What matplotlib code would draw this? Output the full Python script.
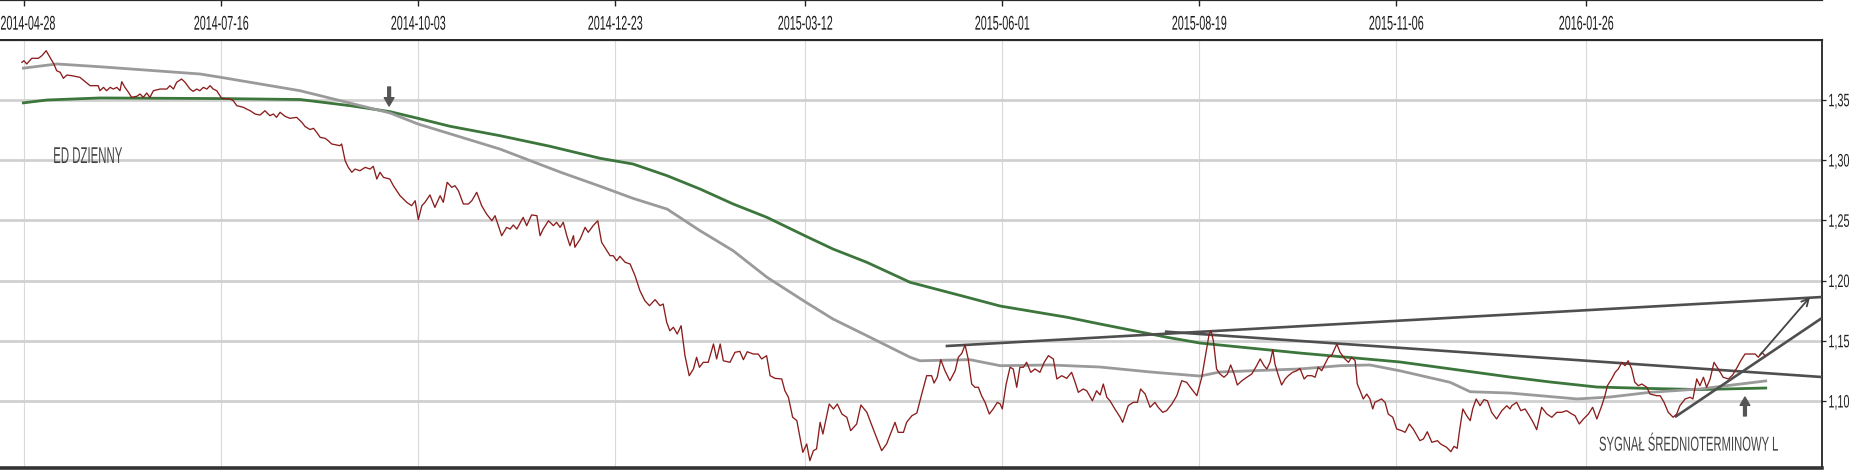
import matplotlib
matplotlib.use("Agg")
import matplotlib.pyplot as plt
from matplotlib import font_manager as fm
from matplotlib import patheffects
from matplotlib.transforms import Affine2D

# ---------------- data (x = trading-day index, 0 = 2014-04-28) ----------------
tick_bars = [0, 56, 112, 168, 222, 278, 334, 390, 444]
tick_labels = ["2014-04-28", "2014-07-16", "2014-10-03", "2014-12-23", "2015-03-12",
               "2015-06-01", "2015-08-19", "2015-11-06", "2016-01-26"]
ytick_vals = [1.10, 1.15, 1.20, 1.25, 1.30, 1.35]

price_bar = [
    -0.7, -0.1, 0.7, 2.1, 4.0, 5.0, 6.2, 7.3, 8.4, 9.2, 10.2, 11.1, 12.1, 13.5, 15.8, 17.3, 18.7, 21.0,
    21.5, 22.5, 23.4, 24.4, 25.3, 26.3, 27.2, 27.7, 28.6, 29.6, 30.5, 32.0, 32.9, 33.8, 34.8, 35.7, 36.7,
    38.6, 40.5, 41.4, 42.4, 43.3, 44.7, 45.7, 47.1, 48.0, 49.0, 49.9, 50.9, 51.9, 52.8, 53.7, 54.7, 56.1,
    58.5, 59.4, 60.4, 62.3, 63.2, 64.2, 65.6, 67.0, 68.4, 69.8, 70.8, 71.7, 72.7, 74.1, 75.5, 77.4, 78.9,
    79.8, 81.2,
    82.2, 83.1, 84.1, 85.5, 86.4, 87.4, 89.7, 90.2, 91.2, 92.1, 93.1, 94.0, 95.4, 96.9, 98.3, 99.2, 100.2,
    101.1, 102.1, 103.9, 104.9, 106.8, 108.7, 110.1, 111.1, 112.0, 113.0, 113.9, 115.3, 116.7, 118.2,
    119.1, 120.2, 121.5, 122.4, 123.4, 124.8, 126.2, 127.2, 128.6, 130.0, 131.4, 132.9, 133.8, 135.7,
    137.1, 138.1, 139.0, 140.0, 141.8, 142.8, 144.2, 145.7, 146.6, 147.5, 149.0, 150.4, 151.3, 152.3,
    153.2, 154.2, 155.1, 156.1, 156.5, 158.0, 159.4, 160.3, 161.7, 163.0, 164.1, 166.5,
    167.4, 168.4, 169.3, 170.8, 172.2, 173.6, 175.0, 176.4, 177.7, 179.3, 180.7, 181.6, 182.6, 183.5,
    184.5, 185.6, 186.7, 187.8, 189.0, 190.2, 191.1, 191.9, 193.0, 194.4, 195.9, 196.8, 197.8, 198.7,
    200.6, 202.0, 203.4, 204.4, 205.5, 207.2, 208.6, 209.6, 211.0, 212.0, 213.4, 215.3, 216.2, 217.2,
    218.4, 219.6, 220.3, 221.3, 222.4, 223.3, 224.3, 225.2, 226.2, 227.0, 228.8, 230.0, 231.1, 232.4,
    233.8, 234.9, 236.6, 237.8, 239.5, 241.3, 243.7, 245.1, 247.5, 248.4, 249.9, 250.8,
    252.3, 253.7, 255.1, 256.5, 257.9, 258.6, 259.5, 260.5, 261.7, 263.1, 264.6, 265.5, 266.5, 267.4,
    268.3, 269.3, 270.2, 271.2, 272.1, 273.1, 274.3, 275.4, 276.6, 277.4, 278.0, 279.1, 280.2, 281.1,
    282.1, 283.0, 284.0, 284.9, 286.1, 287.3, 288.7, 289.9, 291.1, 292.5, 293.5, 294.9, 296.3, 297.7,
    298.7, 299.6, 301.0, 302.0, 303.6, 304.8, 305.8, 306.7, 307.7, 308.6, 310.0, 311.5, 312.2, 313.8,
    315.2, 316.4, 317.3, 318.6, 320.0, 321.4, 322.3, 323.6, 324.7, 326.2, 327.6, 329.0, 330.4, 331.8,
    333.3, 334.7, 335.9, 336.8,
    337.3, 338.0, 338.9, 339.9, 341.0, 342.0, 342.9, 343.9, 344.8, 346.1, 347.5, 348.9, 350.3, 351.3,
    352.4, 353.2, 354.1, 354.9, 355.5, 356.5, 357.4, 358.4, 359.3, 360.5, 361.7, 362.6, 363.8, 364.7,
    366.0, 366.9, 367.8, 368.8, 369.7, 370.7, 371.6, 373.1, 374.0, 375.4, 376.4, 377.3, 378.3, 378.9,
    379.7, 380.6, 381.6, 382.5, 383.3, 383.9, 385.8, 386.8, 387.7, 389.0, 390.1, 391.5, 392.5, 393.7,
    394.8, 396.7, 397.7, 398.8, 400.1, 401.7, 402.6, 404.3, 405.5, 406.4, 407.3, 407.9, 408.9, 410.0,
    411.0, 411.7, 412.7, 413.8, 414.9, 415.9, 417.1, 418.5, 420.0, 421.4, 422.3,
    422.8, 424.2, 425.4, 426.6, 427.8, 428.9, 429.9, 431.3, 432.8, 434.2, 435.6, 437.0, 438.4, 439.9,
    440.8, 442.0, 443.2, 444.6, 445.8, 447.0, 448.4, 449.3, 450.0, 451.2, 452.2, 453.1, 454.1, 455.0,
    455.9, 456.9, 457.8, 458.8, 459.8, 461.2, 462.1, 464.0, 465.0, 466.1, 467.3, 468.7, 469.7, 470.6,
    472.1, 473.5, 474.3, 475.4, 476.3, 477.3, 478.2, 479.2, 480.3, 481.5, 482.9, 484.4, 485.6, 486.9,
    487.9, 489.1, 492.0, 492.9, 493.9, 494.8,
]
price_val = [
    1.3811, 1.3824, 1.3797, 1.3844, 1.3844, 1.3866, 1.3907, 1.3852, 1.3797, 1.3741, 1.3728, 1.3678,
    1.3705, 1.3700, 1.3686, 1.3650, 1.3617, 1.3617, 1.3575, 1.3603, 1.3575, 1.3603, 1.3589, 1.3603,
    1.3575, 1.3650, 1.3603, 1.3562, 1.3520, 1.3529, 1.3548, 1.3520, 1.3556, 1.3520, 1.3575, 1.3589,
    1.3589, 1.3617, 1.3589, 1.3645, 1.3672, 1.3645, 1.3589, 1.3570, 1.3589, 1.3575, 1.3603, 1.3589,
    1.3617, 1.3589, 1.3575, 1.3512, 1.3506, 1.3492, 1.3451, 1.3437, 1.3423, 1.3409, 1.3382, 1.3373,
    1.3409, 1.3368, 1.3382, 1.3354, 1.3396, 1.3363, 1.3346, 1.3354, 1.3313, 1.3278, 1.3253,
    1.3263, 1.3230, 1.3188, 1.3180, 1.3160, 1.3133, 1.3119, 1.3133, 1.2994, 1.2939, 1.2898, 1.2925,
    1.2911, 1.2939, 1.2925, 1.2948, 1.2842, 1.2898, 1.2856, 1.2842, 1.2787, 1.2704, 1.2649, 1.2621,
    1.2662, 1.2505, 1.2621, 1.2649, 1.2710, 1.2607, 1.2704, 1.2649, 1.2815, 1.2773, 1.2787, 1.2745,
    1.2635, 1.2635, 1.2662, 1.2732, 1.2621, 1.2552, 1.2496, 1.2538, 1.2372, 1.2441, 1.2427, 1.2461,
    1.2427, 1.2524, 1.2455, 1.2544, 1.2538, 1.2372, 1.2427, 1.2496, 1.2455, 1.2483, 1.2441, 1.2483,
    1.2372, 1.2289, 1.2372, 1.2276, 1.2344, 1.2441, 1.2400, 1.2455, 1.2496, 1.2317, 1.2206,
    1.2206, 1.2164, 1.2201, 1.2151, 1.2137, 1.2040, 1.1915, 1.1832, 1.1791, 1.1841, 1.1791, 1.1805,
    1.1653, 1.1583, 1.1612, 1.1556, 1.1625, 1.1376, 1.1210, 1.1266, 1.1363, 1.1280, 1.1321, 1.1321,
    1.1473, 1.1349, 1.1473, 1.1334, 1.1321, 1.1404, 1.1412, 1.1343, 1.1409, 1.1390, 1.1390, 1.1349,
    1.1376, 1.1210, 1.1188, 1.1183, 1.1085, 1.1031, 1.0865, 1.0837, 1.0726, 1.0574, 1.0643, 1.0505,
    1.0588, 1.0602, 1.0823, 1.0726, 1.0975, 1.0934, 1.0975, 1.0892, 1.0865, 1.0754, 1.0809, 1.0967,
    1.0906, 1.0768, 1.0588, 1.0643, 1.0823, 1.0740, 1.0740, 1.0823,
    1.0878, 1.0900, 1.1058, 1.1210, 1.1210, 1.1149, 1.1197, 1.1343, 1.1251, 1.1168, 1.1251, 1.1363,
    1.1396, 1.1465, 1.1349, 1.1141, 1.1114, 1.1114, 1.1044, 1.0989, 1.0892, 1.0934, 1.0989, 1.0975,
    1.0934, 1.1141, 1.1280, 1.1266, 1.1114, 1.1280, 1.1280, 1.1321, 1.1238, 1.1266, 1.1238, 1.1321,
    1.1376, 1.1349, 1.1183, 1.1210, 1.1188, 1.1238, 1.1155, 1.1072, 1.1100, 1.1085, 1.1002, 1.1085,
    1.1050, 1.1141, 1.1031, 1.1002, 1.0934, 1.0865, 1.0823, 1.0961, 1.0989, 1.0989, 1.1100, 1.1058,
    1.0948, 1.0989, 1.0948, 1.0906, 1.0920, 1.0975, 1.1044, 1.1168, 1.1155, 1.1100, 1.1044, 1.1197,
    1.1404, 1.1556,
    1.1583, 1.1500, 1.1266, 1.1224, 1.1197, 1.1224, 1.1299, 1.1224, 1.1133, 1.1168, 1.1197, 1.1224,
    1.1293, 1.1349, 1.1293, 1.1266, 1.1321, 1.1426, 1.1307, 1.1210, 1.1133, 1.1183, 1.1210, 1.1238,
    1.1251, 1.1271, 1.1183, 1.1210, 1.1210, 1.1197, 1.1280, 1.1251, 1.1307, 1.1363, 1.1376, 1.1473,
    1.1404, 1.1349, 1.1321, 1.1363, 1.1334, 1.1141, 1.1085, 1.1017, 1.1058, 1.1017, 1.0934, 1.0989,
    1.1017, 1.0989, 1.0892, 1.0865, 1.0768, 1.0754, 1.0740, 1.0809, 1.0768, 1.0671, 1.0685, 1.0745,
    1.0657, 1.0671, 1.0643, 1.0616, 1.0579, 1.0624, 1.0607, 1.0740, 1.0934, 1.0878, 1.0837, 1.0934,
    1.1017, 1.0961, 1.1011, 1.1002, 1.0906, 1.0851, 1.0920, 1.0961, 1.0934,
    1.0961, 1.0989, 1.0920, 1.0934, 1.0878, 1.0823, 1.0762, 1.0948, 1.0892, 1.0865, 1.0906, 1.0906,
    1.0920, 1.0892, 1.0878, 1.0809, 1.0851, 1.0892, 1.0948, 1.0851, 1.0961, 1.1044, 1.1127, 1.1183,
    1.1238, 1.1266, 1.1321, 1.1293, 1.1334, 1.1266, 1.1155, 1.1127, 1.1141, 1.1114, 1.1058, 1.1044,
    1.1044, 1.0989, 1.0906, 1.0865, 1.0892, 1.0961, 1.1017, 1.1031, 1.1017, 1.1183, 1.1127, 1.1197,
    1.1114, 1.1183, 1.1321, 1.1266, 1.1197, 1.1183, 1.1216, 1.1280, 1.1334, 1.1390, 1.1390, 1.1363,
    1.1404, 1.1376,
]

# long moving average (green)
ma_long_bar = [-0.65, 6.45, 21.5, 55.6, 78.4, 92.6, 104.0, 111.9, 121.0, 135.2, 149.4, 163.7, 173.0,
               182.7, 192.1, 201.5, 211.1, 222.2, 229.9, 239.5, 251.8, 268.0, 277.4, 296.4, 305.8,
               324.8, 334.2, 362.6, 391.0, 422.3, 433.7, 447.0, 462.1, 476.3, 495.4]
ma_long_val = [1.3473, 1.3498, 1.3515, 1.3510, 1.3502, 1.3451, 1.3401, 1.3346, 1.3280, 1.3202, 1.3114,
               1.3014, 1.2967, 1.2870, 1.2759, 1.2635, 1.2524, 1.2367, 1.2261, 1.2151, 1.1985, 1.1861,
               1.1788, 1.1695, 1.1639, 1.1529, 1.1481, 1.1398, 1.1324, 1.1199, 1.1158, 1.1116, 1.1104,
               1.1095, 1.1108]

# short moving average (grey)
ma_short_bar = [-0.65, 9.3, 21.5, 49.9, 55.9, 78.4, 104.0, 111.9, 135.2, 152.3, 163.7, 173.0, 182.7,
                192.1, 201.5, 211.1, 222.2, 229.9, 239.5, 251.8, 254.6, 268.8, 277.4, 291.6, 305.8,
                320.0, 334.2, 339.9, 362.6, 374.0, 382.5, 391.0, 405.3, 411.0, 422.3, 441.4, 450.7,
                462.1, 476.3, 495.4]
ma_short_val = [1.3761, 1.3797, 1.3774, 1.3714, 1.3686, 1.3575, 1.3390, 1.3299, 1.3091, 1.2900, 1.2782,
                1.2682, 1.2593, 1.2413, 1.2247, 1.2027, 1.1819, 1.1680, 1.1542, 1.1363, 1.1334, 1.1343,
                1.1293, 1.1299, 1.1282, 1.1241, 1.1207, 1.1241, 1.1266, 1.1293, 1.1299, 1.1251, 1.1155,
                1.1077, 1.1066, 1.1017, 1.1033, 1.1072, 1.1100, 1.1168]

# hand-drawn trend lines
trend_rise_bar = [261.9, 511.0]
trend_rise_val = [1.1456, 1.1863]
trend_fall_bar = [324.2, 511.0]
trend_fall_val = [1.1576, 1.1199]
trend_support_bar = [469.2, 511.0]
trend_support_val = [1.0867, 1.1689]
signal_arrow_from = (493.4, 1.1382)
signal_arrow_to = (507.6, 1.1863)

cross_arrow_bar, cross_arrow_from, cross_arrow_to = 103.7, 1.3606, 1.3448
signal_mark_bar, signal_mark_from, signal_mark_to = 489.1, 1.0876, 1.1033

label_ed = ("ED DZIENNY", 17.9, 1.2975)
label_signal = ("SYGNAŁ ŚREDNIOTERMINOWY L", 473.0, 1.0588)


# ---------------- fonts: tall, horizontally compressed lettering ----------------
def available(fam):
    try:
        fm.findfont(fm.FontProperties(family=fam), fallback_to_default=False)
        return True
    except Exception:
        return False


FONT = next((f for f in ["Liberation Sans Narrow", "Liberation Sans", "DejaVu Sans"] if available(f)),
            "DejaVu Sans")


class Squeeze(patheffects.AbstractPathEffect):
    """Draw the text compressed horizontally (like the source bitmap)."""

    def __init__(self, sx, anchor="center"):
        super().__init__()
        self.sx = sx
        self.anchor = anchor

    def draw_path(self, renderer, gc, tpath, affine, rgbFace=None):
        ext = tpath.get_extents(affine)
        if self.anchor == "left":
            x0 = ext.x0
        else:
            x0 = 0.5 * (ext.x0 + ext.x1)
        aff = affine + Affine2D().translate(-x0, 0).scale(self.sx, 1.0).translate(x0, 0)
        renderer.draw_path(gc, tpath, aff, rgbFace)


# ---------------- figure ----------------
W, H = 1865, 477
fig = plt.figure(figsize=(W / 100, H / 100), dpi=100)
fig.patch.set_facecolor("white")

ax_right = 1822
ax = fig.add_axes([0, (H - 469) / H, ax_right / W, (469 - 41) / H])
ax.set_xlim(-6.91, 511.0)
ax.set_ylim(1.0444, 1.3996)

ax.spines["left"].set_visible(False)
ax.spines["top"].set_linewidth(1.6)
ax.spines["top"].set_color("#2a2a2a")
ax.spines["bottom"].set_linewidth(2.6)
ax.spines["bottom"].set_color("#333333")
ax.spines["right"].set_linewidth(1.2)
ax.spines["right"].set_color("#111111")

ax.set_xticks(tick_bars)
ax.tick_params(axis="x", length=0, labelbottom=False)
ax.yaxis.tick_right()
ax.set_yticks(ytick_vals)
ylabels = ax.set_yticklabels([f"{v:.2f}".replace(".", ",") for v in ytick_vals], family=FONT,
                             fontsize=13.0, color="#1a1a1a")
ax.tick_params(axis="y", direction="out", length=3, width=0.9, colors="#222222", pad=1.2)
ax.grid(axis="x", color="#d9d9d9", lw=0.8)
ax.grid(axis="y", color="#d0d0d0", lw=2.0)
ax.set_axisbelow(True)

ax.plot(ma_long_bar, ma_long_val, color="#3c763c", lw=2.0, zorder=2, solid_capstyle="butt")
ax.plot(ma_short_bar, ma_short_val, color="#9a9a9a", lw=2.0, zorder=2, solid_capstyle="butt")
for xs, ys in [(trend_rise_bar, trend_rise_val), (trend_fall_bar, trend_fall_val),
               (trend_support_bar, trend_support_val)]:
    ax.plot(xs, ys, color="#4f4f4f", lw=1.9, zorder=3, solid_capstyle="butt")
ax.plot(price_bar, price_val, color="#8b1d1d", lw=0.95, zorder=4)

ax.annotate("", xy=signal_arrow_to, xytext=signal_arrow_from,
            arrowprops=dict(arrowstyle="->", color="#444444", lw=1.3, mutation_scale=13,
                            shrinkA=0, shrinkB=0), zorder=5)
for bx, y0, y1 in [(cross_arrow_bar, cross_arrow_from, cross_arrow_to),
                   (signal_mark_bar, signal_mark_from, signal_mark_to)]:
    ax.annotate("", xy=(bx, y1), xytext=(bx, y0),
                arrowprops=dict(facecolor="#555555", edgecolor="#555555", width=2.0,
                                headwidth=7.0, headlength=6.0, shrink=0), zorder=5)

squeeze_jobs = []  # (text artist, target ink width in px, anchor)
for (txt, bx, by), target, size in [(label_ed, 69, 16.5), (label_signal, 179, 14.5)]:
    t = ax.text(bx, by, txt, ha="center", va="baseline", family=FONT, fontsize=size,
                color="#454545", zorder=6)
    squeeze_jobs.append((t, target, "center"))
for t in ylabels:
    squeeze_jobs.append((t, 21, "left"))

# top date strip
axt = fig.add_axes([0, (H - 40) / H, ax_right / W, 39 / H])
axt.set_xlim(ax.get_xlim())
axt.set_ylim(0, 1)
for s in ["left", "right", "bottom"]:
    axt.spines[s].set_visible(False)
axt.spines["top"].set_linewidth(1.6)
axt.spines["top"].set_color("#2a2a2a")
axt.set_yticks([])
axt.set_xticks(tick_bars)
axt.tick_params(axis="x", top=True, bottom=False, direction="in", length=4.5, width=1.0,
                colors="#222222", labeltop=False, labelbottom=False)
for i, (bx, lab) in enumerate(zip(tick_bars, tick_labels)):
    if i == 0:  # first label starts right at the left edge of the strip
        t = axt.text(0.0, 0.24, lab, transform=axt.transAxes, ha="left", va="baseline",
                     family=FONT, fontsize=14.3, color="#1a1a1a")
        squeeze_jobs.append((t, 55, "left"))
    else:
        t = axt.text(bx, 0.24, lab, transform=axt.get_xaxis_transform(), ha="center",
                     va="baseline", family=FONT, fontsize=14.3, color="#1a1a1a")
        squeeze_jobs.append((t, 55, "center"))

renderer = fig.canvas.get_renderer()
for t, target, anchor in squeeze_jobs:
    w = t.get_window_extent(renderer).width
    if w > 0:
        t.set_path_effects([Squeeze(min(1.0, target / w), anchor)])

fig.savefig("out.png", dpi=100, facecolor="white")
